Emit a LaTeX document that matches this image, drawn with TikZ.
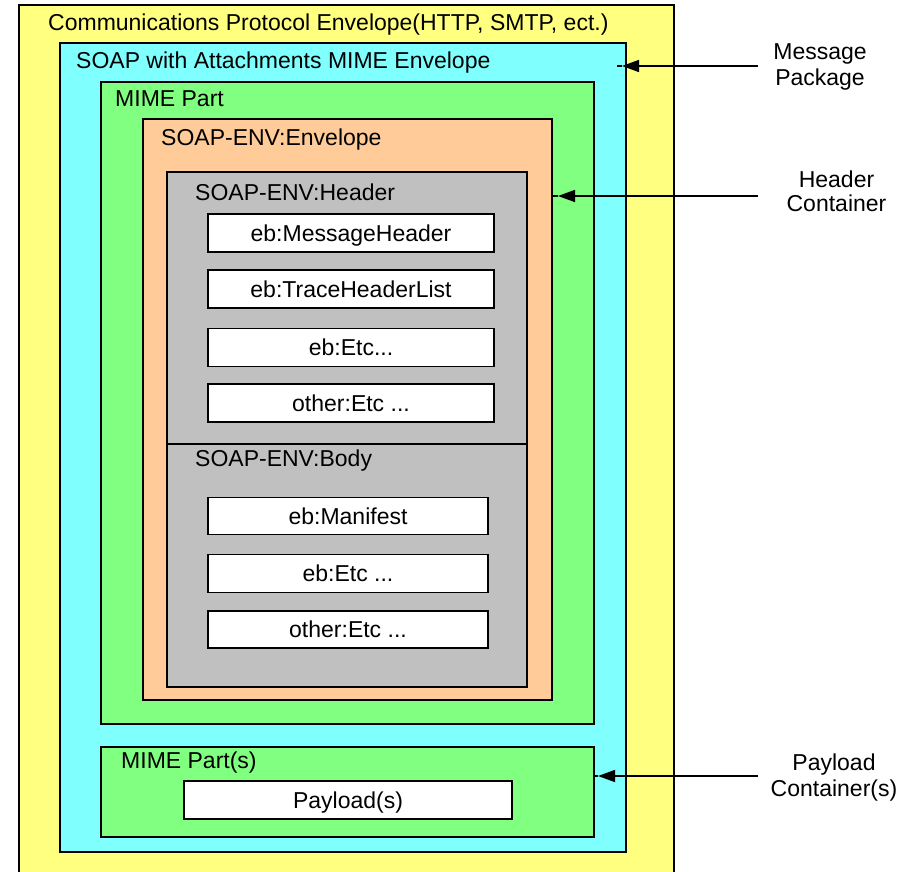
\documentclass[tikz,border=0pt]{standalone}
\usepackage{fontspec}
\setmainfont{Liberation Sans}
\usetikzlibrary{arrows.meta}
\definecolor{cyel}{HTML}{FFFF80}
\definecolor{ccyan}{HTML}{80FFFF}
\definecolor{cgreen}{HTML}{80FF80}
\definecolor{corange}{HTML}{FFCC99}
\definecolor{cgray}{HTML}{C0C0C0}
\newcommand\dgfont{\fontsize{23}{26}\selectfont}
\newcommand\dgfontb{\fontsize{23}{24}\selectfont}
\begin{document}
\begin{tikzpicture}[x=1pt,y=-1pt,
  box/.style={draw=black, line width=1.6pt, inner sep=0pt, outer sep=0pt, anchor=center},
  item/.style={box, fill=white, font=\dgfont, text height=16pt, text depth=0pt},
  lbl/.style={anchor=base west, inner sep=0pt, font=\dgfont},
  side/.style={align=center, inner sep=0pt, font=\dgfont},
  conn/.style={line width=1.6pt},
  arr/.style={conn, -{Triangle[length=17pt,width=12pt]}}]
\useasboundingbox (0,0) rectangle (914,872);
\clip (0,0) rectangle (914,872);
% containers
\node[box, fill=cyel, minimum width=655pt, minimum height=895pt] (proto) at (346.5,452.5) {};
\node[box, fill=ccyan, minimum width=566pt, minimum height=809pt] (soapatt) at (343,447.5) {};
\node[box, fill=cgreen, minimum width=493pt, minimum height=642pt] (mime) at (347.5,403) {};
\node[box, fill=corange, minimum width=409pt, minimum height=581pt] (env) at (347.5,409.5) {};
\node[box, fill=cgray, minimum width=360pt, minimum height=515pt] (gray) at (347,429.5) {};
\draw[conn] (gray.west |- 0,444) -- (gray.east |- 0,444);
\node[box, fill=cgreen, minimum width=493pt, minimum height=90pt] (mimes) at (347.5,792) {};
% labels
\node[lbl] (protol) at (48,31) {Communications Protocol Envelope(HTTP, SMTP, ect.)};
\node[lbl] (soapattl) at (76,69) {SOAP with Attachments MIME Envelope};
\node[lbl] (mimel) at (115,107) {MIME Part};
\node[lbl] (envl) at (161,146) {SOAP-ENV:Envelope};
\node[lbl] (hdrl) at (195,201) {SOAP-ENV:Header};
\node[lbl] (bodyl) at (195,466) {SOAP-ENV:Body};
\node[lbl] (mimesl) at (121,768) {MIME Part(s)};
% header items
\node[item, minimum width=286pt, minimum height=38pt] (h1) at (351,233) {eb:MessageHeader};
\node[item, minimum width=286pt, minimum height=38pt] (h2) at (351,289) {eb:TraceHeaderList};
\node[item, minimum width=286pt, minimum height=38pt] (h3) at (351,347.5) {eb:Etc...};
\node[item, minimum width=286pt, minimum height=38pt] (h4) at (351,403) {other:Etc ...};
% body items
\node[item, minimum width=280pt, minimum height=37pt] (b1) at (348,516) {eb:Manifest};
\node[item, minimum width=280pt, minimum height=38pt] (b2) at (348,573.5) {eb:Etc ...};
\node[item, minimum width=280pt, minimum height=37pt] (b3) at (348,629.5) {other:Etc ...};
% payload
\node[item, minimum width=328pt, minimum height=38pt] (pl) at (348,800) {Payload(s)};
% side labels
\node[side] (msg) at (820,66.5) {Message\\Package};
\node[side, font=\dgfontb] (hdc) at (836.5,191.5) {Header\\Container};
\node[side] (pyc) at (834,777.5) {Payload\\Container(s)};
% connectors
\coordinate (m0) at (758,66); \coordinate (mt) at (622,66); \coordinate (me) at (617,66);
\coordinate (c0) at (758,196); \coordinate (ct) at (558,196);
\coordinate (p0) at (758,776); \coordinate (pt) at (598,776);
\draw[arr] (m0) -- (mt);
\draw[conn] (mt) -- (me);
\draw[arr] (c0) -- (ct);
\draw[conn] (ct) -- (ct -| env.east);
\draw[arr] (p0) -- (pt);
\draw[conn] (pt) -- (pt -| mimes.east);
\end{tikzpicture}
\end{document}
